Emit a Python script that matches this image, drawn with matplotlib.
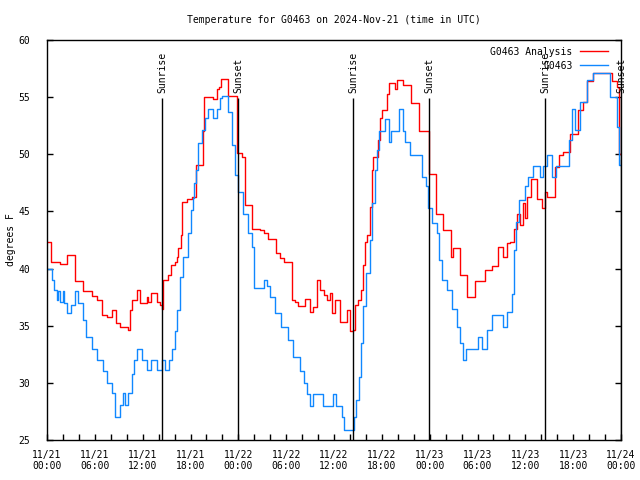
import numpy as np
import pandas as pd
import matplotlib
matplotlib.use('Agg')
import matplotlib.pyplot as plt
import matplotlib.dates as mdates

plt.rcParams['font.family'] = 'DejaVu Sans Mono'
plt.rcParams['font.size'] = 7

# hours since 2024-11-21 00:00 UTC
analysis_hours = [0.0, 0.5, 1.63, 2.47, 3.47, 4.48, 5.6, 6.23, 6.9, 7.49, 8.12, 8.66, 9.16, 10.2,
                  10.41, 10.66, 11.25, 11.67, 12.5, 12.7, 13.0, 13.76, 14.17, 14.46, 14.59, 15.22,
                  15.52, 16.06, 16.27, 16.47, 16.77, 16.97, 17.52, 18.15, 18.69, 19.61, 19.73, 20.86,
                  21.29, 21.58, 21.79, 22.74, 23.87, 24.42, 24.84, 25.68, 26.72, 27.22, 27.76, 28.73,
                  29.23, 29.73, 30.7, 31.11, 31.52, 32.36, 32.99, 33.4, 33.83, 34.24, 34.75, 35.09,
                  35.5, 35.79, 36.13, 36.75, 37.59, 38.01, 38.35, 38.64, 39.05, 39.35, 39.6, 39.89,
                  40.18, 40.52, 40.73, 40.93, 41.48, 41.77, 41.98, 42.61, 42.94, 43.65, 43.94, 44.69,
                  45.66, 46.7, 47.95, 48.8, 49.71, 50.68, 50.97, 51.81, 52.72, 53.69, 54.94, 55.78,
                  56.53, 57.16, 57.74, 58.08, 58.58, 58.92, 59.33, 59.67, 59.96, 60.17, 60.67, 61.47,
                  62.05, 62.47, 62.68, 63.72, 64.26, 64.76, 65.6, 66.65, 67.27, 67.78, 68.53, 70.83,
                  71.54, 71.69, 72.0]
analysis_temp = [42.3, 40.6, 40.4, 41.2, 38.9, 38.0, 37.6, 37.25, 35.9, 35.8, 36.4, 35.2, 34.9, 34.6,
                 36.4, 37.25, 38.1, 37.0, 37.5, 37.1, 37.9, 37.1, 36.8, 36.5, 39.0, 39.4,
                 40.3, 40.6, 41.0, 41.8, 42.9, 45.85, 46.05, 46.3, 49.1, 52.0, 55.0, 54.8,
                 55.7, 55.9, 56.6, 55.1, 50.1, 49.8, 45.6, 43.5, 43.4, 43.1, 42.6, 41.4,
                 40.9, 40.6, 37.25, 37.1, 36.7, 37.3, 36.2, 36.65, 39.0, 38.1, 37.7, 37.25,
                 37.9, 36.1, 37.25, 35.35, 36.4, 34.5, 34.6, 36.8, 37.25, 38.1, 40.3, 42.35,
                 42.9, 45.4, 48.6, 49.8, 51.25, 53.15, 53.9, 55.3, 56.2, 55.75, 56.5, 56.05,
                 54.5, 52.0, 48.3, 44.8, 43.4, 41.0, 41.8, 39.4, 37.5, 38.9, 39.9, 40.2,
                 41.9, 41.0, 42.2, 42.35, 43.5, 44.8, 43.8, 45.7, 44.4, 46.3, 47.8, 46.1,
                 45.3, 46.7, 46.3, 48.9, 49.9, 50.2, 51.8, 53.9, 54.6, 56.4, 57.1, 56.4,
                 55.9, 50.0, 50.0]

obs_hours = [0.0, 0.63, 0.88, 1.22, 1.42, 1.63, 1.97, 2.13, 2.47, 2.97, 3.51, 3.93, 4.52, 4.89,
             5.61, 6.23, 7.02, 7.49, 8.12, 8.53, 9.16, 9.5, 9.78, 10.2, 10.62, 10.91, 11.25, 11.88,
             12.51, 13.01, 13.76, 14.39, 14.8, 15.34, 15.68, 16.06, 16.34, 16.68, 17.1, 17.65,
             18.03, 18.35, 18.48, 18.69, 18.98, 19.41, 19.82, 20.23, 20.79, 21.29, 21.7, 21.91,
             22.74, 23.17, 23.58, 24.0, 24.62, 25.25, 25.68, 25.97, 27.22, 27.6, 27.97, 28.6,
             29.32, 30.27, 30.9, 31.74, 32.24, 32.65, 32.99, 33.33, 34.66, 35.84, 36.25, 36.97,
             37.26, 38.5, 38.76, 39.18, 39.39, 39.68, 40.01, 40.52, 40.8, 41.14, 41.36, 41.65,
             42.4, 42.94, 43.11, 44.19, 44.62, 44.91, 45.53, 47.0, 47.54, 47.83, 48.25, 48.88,
             49.17, 49.51, 50.21, 50.77, 51.39, 51.81, 52.22, 52.56, 54.1, 54.53, 55.16, 55.78,
             57.24, 57.74, 58.29, 58.58, 58.83, 59.25, 59.96, 60.38, 61.0, 61.84, 62.25, 62.68,
             63.31, 63.85, 65.52, 65.82, 66.23, 66.86, 67.7, 68.53, 70.62, 71.46, 71.75, 72.0]
obs_temp = [40.0, 39.0, 38.1, 37.25, 38.0, 37.1, 38.0, 37.0, 36.1, 36.8, 38.0, 37.0, 35.5, 34.0,
            33.0, 32.0, 31.0, 30.0, 29.1, 27.0, 28.1, 29.1, 28.1, 29.1, 30.8, 32.0, 33.0, 32.0,
            31.1, 32.0, 31.1, 32.0, 31.1, 32.0, 33.0, 34.5, 36.4, 39.3, 41.0, 43.1,
            45.1, 46.15, 47.5, 48.6, 51.0, 52.1, 53.15, 54.0, 53.15, 54.0, 54.9, 55.1,
            53.7, 50.8, 48.2, 46.7, 44.8, 43.1, 41.9, 38.3, 39.0, 38.5, 37.5, 36.1,
            34.9, 33.75, 32.3, 31.0, 30.0, 29.0, 28.0, 29.0, 28.0, 29.0, 28.0, 27.0,
            25.9, 27.0, 28.5, 30.5, 33.5, 36.7, 39.6, 42.5, 45.7, 48.6, 50.4, 52.0,
            53.1, 51.1, 52.0, 54.0, 52.0, 51.1, 49.9, 48.0, 47.2, 45.3, 44.0, 43.1,
            40.75, 39.0, 38.1, 36.5, 34.9, 33.5, 32.0, 33.0, 34.0, 33.0, 34.6, 35.9,
            34.9, 36.2, 37.8, 41.6, 44.1, 46.0, 47.2, 48.0, 49.0, 48.0, 49.0, 49.9,
            48.0, 49.0, 51.25, 54.0, 52.1, 54.6, 56.5, 57.1, 55.0, 52.4, 49.1, 49.5]

sun_hours = [14.43, 23.96, 38.38, 47.92, 62.47, 72.0]
sun_labels = ['Sunrise', 'Sunset', 'Sunrise', 'Sunset', 'Sunrise', 'Sunset']

base = pd.Timestamp('2024-11-21 00:00')
t_an = base + pd.to_timedelta(analysis_hours, unit='h')
t_obs = base + pd.to_timedelta(obs_hours, unit='h')
t_sun = base + pd.to_timedelta(sun_hours, unit='h')

fig = plt.figure(figsize=(6.4, 4.8), dpi=100)
ax = fig.add_axes([47 / 640, 40 / 480, 574 / 640, 400 / 480])

ax.plot(t_an, analysis_temp, color='#ff0000', lw=1, drawstyle='steps-post', label='G0463 Analysis')
ax.plot(t_obs, obs_temp, color='#1088ff', lw=1, drawstyle='steps-post', label='G0463')

for t, lab in zip(t_sun, sun_labels):
    ax.vlines(t, 25, 54.9, color='black', lw=1)
    ax.text(t, 55.4, lab, rotation=90, ha='center', va='bottom', fontsize=7)

ax.set_xlim(base, base + pd.Timedelta(hours=72))
ax.set_ylim(25, 60)
ax.set_yticks(range(25, 61, 5))
ax.xaxis.set_major_locator(mdates.HourLocator(byhour=[0, 6, 12, 18]))
ax.xaxis.set_minor_locator(mdates.HourLocator(interval=2))
ax.xaxis.set_major_formatter(mdates.DateFormatter('%m/%d\n%H:%M'))
ax.tick_params(axis='x', which='both', direction='in', length=4, width=1, pad=7, labelsize=7)
ax.tick_params(axis='y', direction='in', length=4, width=1, pad=12, labelsize=7,
               right=True)
ax.set_ylabel('degrees F', fontsize=7, labelpad=2)
ax.set_title('Temperature for G0463 on 2024-Nov-21 (time in UTC)', fontsize=7, pad=12)
for s in ax.spines.values():
    s.set_linewidth(1)

ax.legend(loc='upper right', bbox_to_anchor=(0.99, 1.0), frameon=False, markerfirst=False,
          fontsize=7, handlelength=2.9, handletextpad=0.8, labelspacing=0.4, borderaxespad=0.3)

fig.savefig('out.png', dpi=100)
